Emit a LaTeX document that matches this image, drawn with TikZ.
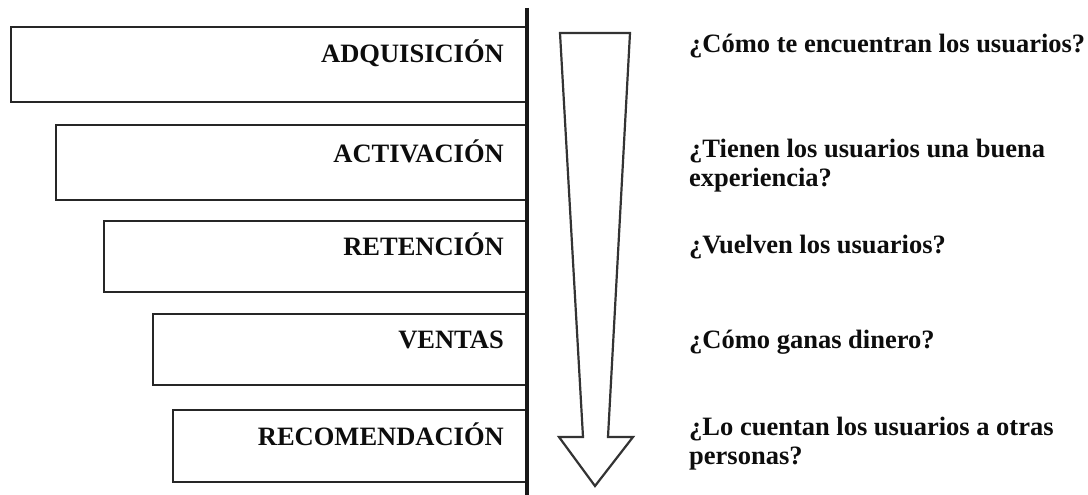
\documentclass[tikz,border=0pt]{standalone}
\usepackage{fontspec}
\setmainfont{Liberation Serif}
\begin{document}
\begin{tikzpicture}[x=1pt,y=-1pt,
  stagebox/.style={draw=black!85, line width=2.4pt, rectangle, inner sep=0pt, anchor=north west},
  stagelabel/.style={anchor=base east, inner sep=0pt, font=\fontsize{26.5}{29}\selectfont\bfseries, text=black!95},
  question/.style={anchor=base west, inner sep=0pt, align=left, font=\fontsize{26.5}{29}\selectfont\bfseries, text=black!95}]
\useasboundingbox (0,0) rectangle (1088,495);
% boxes
\node[stagebox, minimum width=517pt, minimum height=75pt] (b1) at (10,26) {};
\node[stagebox, minimum width=472pt, minimum height=75pt] (b2) at (55,124) {};
\node[stagebox, minimum width=424pt, minimum height=71pt] (b3) at (103,220) {};
\node[stagebox, minimum width=375pt, minimum height=71pt] (b4) at (152,313) {};
\node[stagebox, minimum width=355pt, minimum height=72pt] (b5) at (172,409) {};
% labels
\node[stagelabel] (l1) at (504,63) {ADQUISICIÓN};
\node[stagelabel] (l2) at (504,162) {ACTIVACIÓN};
\node[stagelabel] (l3) at (504,255) {RETENCIÓN};
\node[stagelabel] (l4) at (504,348) {VENTAS};
\node[stagelabel] (l5) at (504,445) {RECOMENDACIÓN};
% vertical line
\coordinate (ltop) at (527,8);
\coordinate (lbot) at (527,495);
\draw[line width=3.2pt, black!90] (ltop) -- (lbot);
% arrow
\coordinate (a1) at (560,33);
\coordinate (a2) at (630,33);
\coordinate (a3) at (608,437);
\coordinate (a4) at (633,437);
\coordinate (tip) at (595,486);
\coordinate (a6) at (559,437);
\coordinate (a7) at (583,437);
\draw[line width=2.2pt, black!80, line join=miter] (a1) -- (a2) -- (a3) -- (a4) -- (tip) -- (a6) -- (a7) -- cycle;
% questions
\node[question] (q1) at (689,53) {¿Cómo te encuentran los usuarios?};
\node[question] (q2) at (689,186) {¿Tienen los usuarios una buena\\experiencia?};
\node[question] (q3) at (689,253) {¿Vuelven los usuarios?};
\node[question] (q4) at (689,348) {¿Cómo ganas dinero?};
\node[question] (q5) at (689,464) {¿Lo cuentan los usuarios a otras\\personas?};
\end{tikzpicture}
\end{document}
